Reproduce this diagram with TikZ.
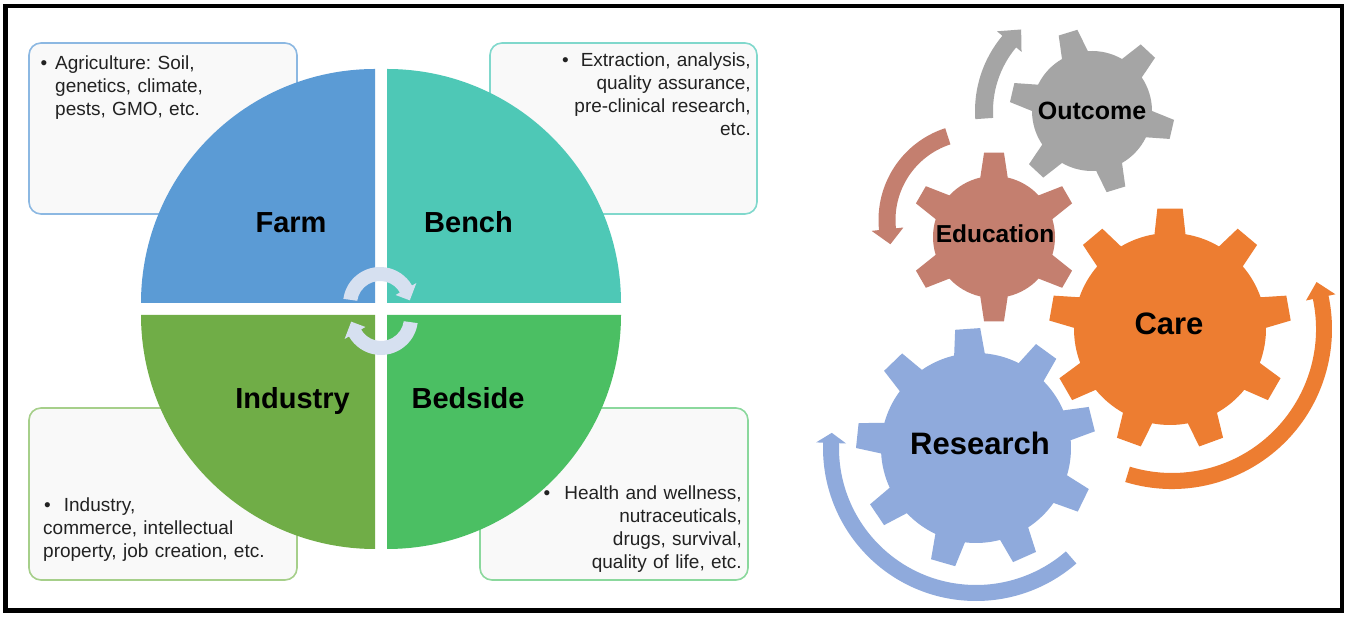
\documentclass[tikz,border=0pt]{standalone}
\usepackage{fontspec}
\setmainfont{Liberation Sans}
\usetikzlibrary{calc}
\frenchspacing
\definecolor{farmc}{HTML}{5B9BD5}
\definecolor{benchc}{HTML}{4EC8B6}
\definecolor{indc}{HTML}{70AD47}
\definecolor{bedc}{HTML}{4BBF63}
\definecolor{farml}{HTML}{8CB8E2}
\definecolor{benchl}{HTML}{80D8CC}
\definecolor{indl}{HTML}{A6CF8A}
\definecolor{bedl}{HTML}{8BD89D}
\definecolor{boxfill}{HTML}{F9F9F9}
\definecolor{txt}{HTML}{222222}
\definecolor{resc}{HTML}{8FAADC}
\definecolor{carec}{HTML}{ED7D31}
\definecolor{educ}{HTML}{C47F6F}
\definecolor{outc}{HTML}{A5A5A5}
\definecolor{cyc}{HTML}{D6E0F0}

% #1 colour, #2 cx, #3 cy, #4 mid radius, #5 half shaft width, #6 half head width, #7 start, #8 shaft end, #9 tip angle
\newcommand{\arcarrow}[9]{%
  \begin{scope}[shift={(#2,#3)}]
  \fill[#1] (#7:#4+#5) arc[start angle=#7, end angle=#8, radius=#4+#5]
     -- (#8:#4+#6) -- (#9:#4) -- (#8:#4-#6) -- (#8:#4-#5)
     arc[start angle=#8, end angle=#7, radius=#4-#5] -- cycle;
  \end{scope}}

% #1 colour, #2 cx, #3 cy, #4 tip radius, #5 body radius, #6 teeth, #7 offset, #8 base half-angle, #9 tip half-angle
\newcommand{\gearshape}[9]{%
  \begin{scope}[shift={(#2,#3)}]
  \fill[#1] (#7-#8:#5) \foreach \k [evaluate=\k as \ang using #7+360*(\k-1)/#6] in {1,...,#6}{
     -- (\ang-#8:#5) -- (\ang-#9:#4) -- (\ang+#9:#4) -- (\ang+#8:#5)
     arc[start angle=\ang+#8, end angle=\ang+360/#6-#8, radius=#5]} -- cycle;
  \end{scope}}

\tikzset{
  boxstyle/.style={rounded corners=12pt, line width=1.6pt, fill=boxfill},
  boxtext/.style={inner sep=0pt, text=txt, font=\fontsize{19}{23}\selectfont},
  quadlab/.style={inner sep=0pt, anchor=base, font=\fontsize{29}{33}\selectfont\bfseries},
  gearlab/.style={inner sep=0pt, anchor=base, font=\bfseries}
}

\begin{document}
\begin{tikzpicture}[x=1pt,y=1pt]
\useasboundingbox (0,0) rectangle (1350,618);
\fill[white] (0,0) rectangle (1350,618);

% boxes behind the circle
\draw[boxstyle, draw=farml] (29,575) rectangle (297,404);
\draw[boxstyle, draw=benchl] (490,575) rectangle (757,404);
\draw[boxstyle, draw=indl] (29,210) rectangle (297,38);
\draw[boxstyle, draw=bedl] (480,210) rectangle (748,38);

% quadrants
\fill[farmc] (375,315) -- ++(90:234) arc[start angle=90, end angle=180, radius=234] -- cycle;
\fill[benchc] (387,315) -- ++(0:234) arc[start angle=0, end angle=90, radius=234] -- cycle;
\fill[indc] (375,303) -- ++(180:234) arc[start angle=180, end angle=270, radius=234] -- cycle;
\fill[bedc] (387,303) -- ++(270:234) arc[start angle=270, end angle=360, radius=234] -- cycle;

% quadrant labels
\node[quadlab] (farm) at (291,385) {Farm};
\node[quadlab] (bench) at (468.5,385) {Bench};
\node[quadlab] (industry) at (292.5,209) {Industry};
\node[quadlab] (bedside) at (468,209) {Bedside};

% box texts
\node[boxtext, anchor=base west, text width=235pt, align=left] (farmtxt) at (55,548)
  {\llap{•\hspace{8pt}}Agriculture: Soil,\\genetics, climate,\\pests, GMO, etc.};
\node[boxtext, anchor=base east, text width=240pt, align=right] (benchtxt) at (751,551)
  {\llap{•\hspace{12pt}}Extraction, analysis,\\quality assurance,\\pre-clinical research,\\etc.};
\node[boxtext, anchor=base west, text width=250pt, align=left] (industrytxt) at (43,106)
  {\hspace*{1pt}•\hspace{13pt}Industry,\\commerce, intellectual\\property, job creation, etc.};
\node[boxtext, anchor=base east, text width=250pt, align=right] (bedsidetxt) at (742,118)
  {\llap{•\hspace{14pt}}Health and wellness,\\nutraceuticals,\\drugs, survival,\\quality of life, etc.};

% centre cycle arrows
\arcarrow{cyc}{380}{314}{30}{7}{12}{172}{30}{7}
\arcarrow{cyc}{381}{300}{30}{7}{12}{-8}{-150}{-173}

% gears
\gearshape{outc}{1092}{507}{82.5}{60}{6}{-13}{13}{6.8}
\gearshape{educ}{994}{381}{85}{61}{6}{30}{13}{6.7}
\gearshape{carec}{1170}{289}{121}{96}{9}{10}{9.3}{6}
\gearshape{resc}{976}{170}{120}{95}{9}{14}{9.3}{6}

% gear arrows
\arcarrow{outc}{1092}{507}{108}{9}{16}{184}{140}{131}
\arcarrow{educ}{975}{398}{88}{8.5}{16}{108}{186}{196}
\arcarrow{carec}{1172}{289}{152}{8}{15}{-107}{12}{18}
\arcarrow{resc}{976}{170}{145}{8}{15}{-49}{-182}{-186}

% gear labels
\node[gearlab, font=\fontsize{25}{29}\selectfont\bfseries] (outcome) at (1092,498) {Outcome};
\node[gearlab, font=\fontsize{24.5}{28}\selectfont\bfseries] (education) at (995,375) {Education};
\node[gearlab, font=\fontsize{31}{35}\selectfont\bfseries] (care) at (1169,283) {Care};
\node[gearlab, font=\fontsize{31}{35}\selectfont\bfseries] (research) at (980,163) {Research};

% frame
\draw[line width=4.5pt] (5.5,7.5) rectangle (1342,612);
\end{tikzpicture}
\end{document}
